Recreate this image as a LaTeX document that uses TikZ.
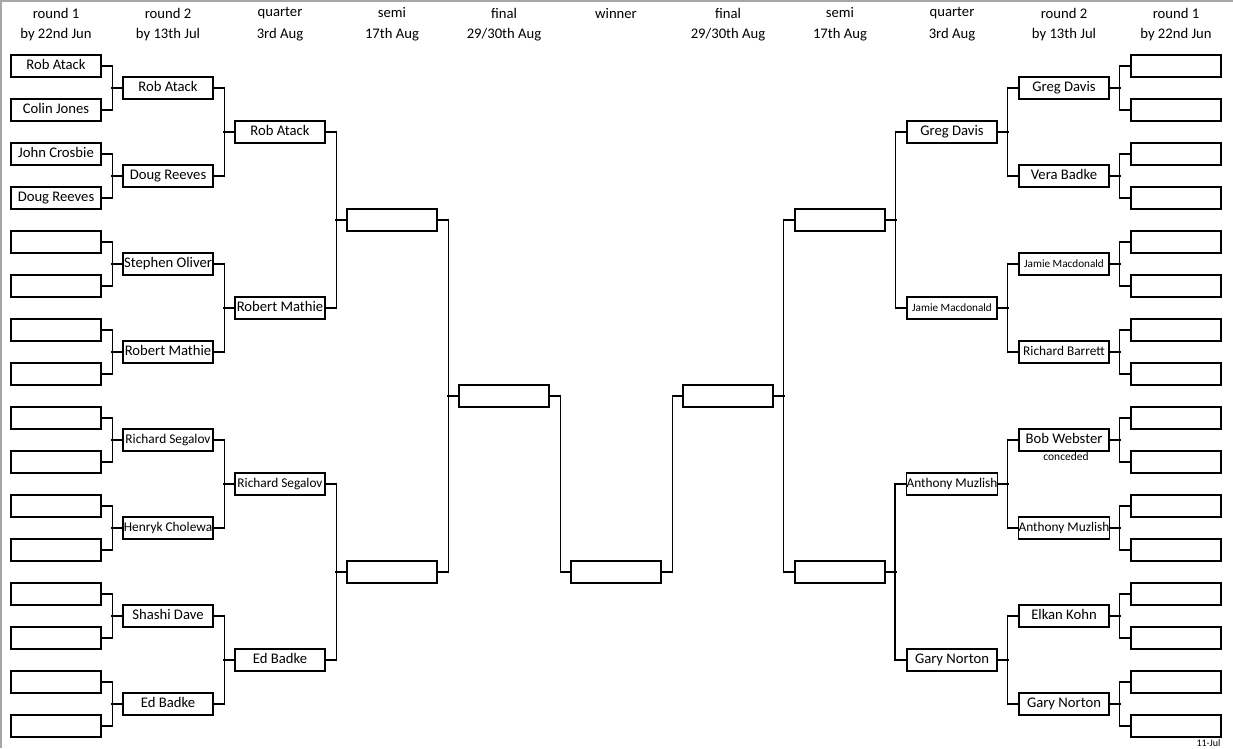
\documentclass[tikz,border=0pt]{standalone}
\usepackage{fontspec}
\setmainfont{Carlito}
\usetikzlibrary{calc}
\definecolor{framegray}{HTML}{A6A6A6}
\newcommand\fnorm{\fontsize{14.67}{16}\selectfont}
\newcommand\fsmall{\fontsize{13.33}{15}\selectfont}
\newcommand\ftiny{\fontsize{11.2}{12}\selectfont}
\newcommand\fnote{\fontsize{11.5}{13}\selectfont}
% bracket joins: two feeders and the slot they feed
\newcommand\joinL[3]{\draw (#1.east) -- ++(11,0) |- (#2.east); \draw (#3.west) -- ++(-11,0);}
\newcommand\joinR[3]{\draw (#1.west) -- ++(-11,0) |- (#2.west); \draw (#3.east) -- ++(11,0);}

\begin{document}
\begin{tikzpicture}[x=1pt, y=-1pt, line width=1.1pt,
  slot/.style={draw, minimum width=90pt, minimum height=22pt, inner sep=0pt, font=\fnorm,
    text height=1.37ex, text depth=0pt},
  head/.style={font=\fnorm, inner sep=0pt}]
  \useasboundingbox (0,0) rectangle (1233,748);
  \draw[framegray, line width=1.5pt] (0.75,748) -- (0.75,0.75) -- (1233,0.75);

  % column headings
  \foreach \i/\top/\bot in {0/round 1/by 22nd Jun, 1/round 2/by 13th Jul, 2/quarter/3rd Aug,
      3/semi/17th Aug, 4/final/{29/30th Aug}, 5/winner/{}, 6/final/{29/30th Aug}, 7/semi/17th Aug,
      8/quarter/3rd Aug, 9/round 2/by 13th Jul, 10/round 1/by 22nd Jun} {
    \node[head] (h\i) at (56+112*\i,13) {\top};
    \node[head] (d\i) at (56+112*\i,35) {\bot};
  }

  % left half
  \foreach \k/\nm in {1/Rob Atack, 2/Colin Jones, 3/John Crosbie, 4/Doug Reeves}
    \node[slot] (L1-\k) at (56,22+44*\k) {\nm};
  \foreach \k in {5,...,16}
    \node[slot] (L1-\k) at (56,22+44*\k) {};
  \foreach \k/\nm/\fs in {1/Rob Atack/\fnorm, 2/Doug Reeves/\fnorm, 3/Stephen Oliver/\fnorm,
      4/Robert Mathie/\fnorm, 5/Richard Segalov/\fsmall, 6/Henryk Cholewa/\fsmall,
      7/Shashi Dave/\fnorm, 8/Ed Badke/\fnorm}
    \node[slot, font=\fs] (L2-\k) at (168,88*\k) {\nm};
  \foreach \k/\nm/\fs in {1/Rob Atack/\fnorm, 2/Robert Mathie/\fnorm, 3/Richard Segalov/\fsmall, 4/Ed Badke/\fnorm}
    \node[slot, font=\fs] (LQ-\k) at (280,176*\k-44) {\nm};
  \foreach \k in {1,2}
    \node[slot] (LS-\k) at (392,352*\k-132) {};
  \node[slot] (LF) at (504,396) {};

  % winner
  \node[slot] (W) at (616,572) {};

  % right half
  \node[slot] (RF) at (728,396) {};
  \foreach \k in {1,2}
    \node[slot] (RS-\k) at (840,352*\k-132) {};
  \foreach \k/\nm/\fs in {1/Greg Davis/\fnorm, 2/Jamie Macdonald/\ftiny, 3/Anthony Muzlish/\fsmall, 4/Gary Norton/\fnorm}
    \node[slot, font=\fs] (RQ-\k) at (952,176*\k-44) {\nm};
  \foreach \k/\nm/\fs in {1/Greg Davis/\fnorm, 2/Vera Badke/\fnorm, 3/Jamie Macdonald/\ftiny,
      4/Richard Barrett/\fsmall, 5/Bob Webster/\fnorm, 6/Anthony Muzlish/\fsmall,
      7/Elkan Kohn/\fnorm, 8/Gary Norton/\fnorm}
    \node[slot, font=\fs] (R2-\k) at (1064,88*\k) {\nm};
  \foreach \k in {1,...,16}
    \node[slot] (R1-\k) at (1176,22+44*\k) {};

  % brackets
  \foreach \k [evaluate=\k as \a using int(2*\k-1), evaluate=\k as \b using int(2*\k)] in {1,...,8} {
    \joinL{L1-\a}{L1-\b}{L2-\k}
    \joinR{R1-\a}{R1-\b}{R2-\k}
  }
  \foreach \k [evaluate=\k as \a using int(2*\k-1), evaluate=\k as \b using int(2*\k)] in {1,...,4} {
    \joinL{L2-\a}{L2-\b}{LQ-\k}
    \joinR{R2-\a}{R2-\b}{RQ-\k}
  }
  \foreach \k [evaluate=\k as \a using int(2*\k-1), evaluate=\k as \b using int(2*\k)] in {1,2} {
    \joinL{LQ-\a}{LQ-\b}{LS-\k}
    \joinR{RQ-\a}{RQ-\b}{RS-\k}
  }
  \joinL{LS-1}{LS-2}{LF}
  \joinR{RS-1}{RS-2}{RF}
  \draw (LF.east) -- ++(11,0) |- (W.west);
  \draw (W.east) -- ++(11,0) |- (RF.west);

  \node[font=\fnote, inner sep=0pt] (conc) at (1066,457) {conceded};
  \node[font=\fontsize{10}{11}\selectfont, inner sep=0pt, anchor=south east] (stamp) at (1221,747) {11-Jul};
\end{tikzpicture}
\end{document}
